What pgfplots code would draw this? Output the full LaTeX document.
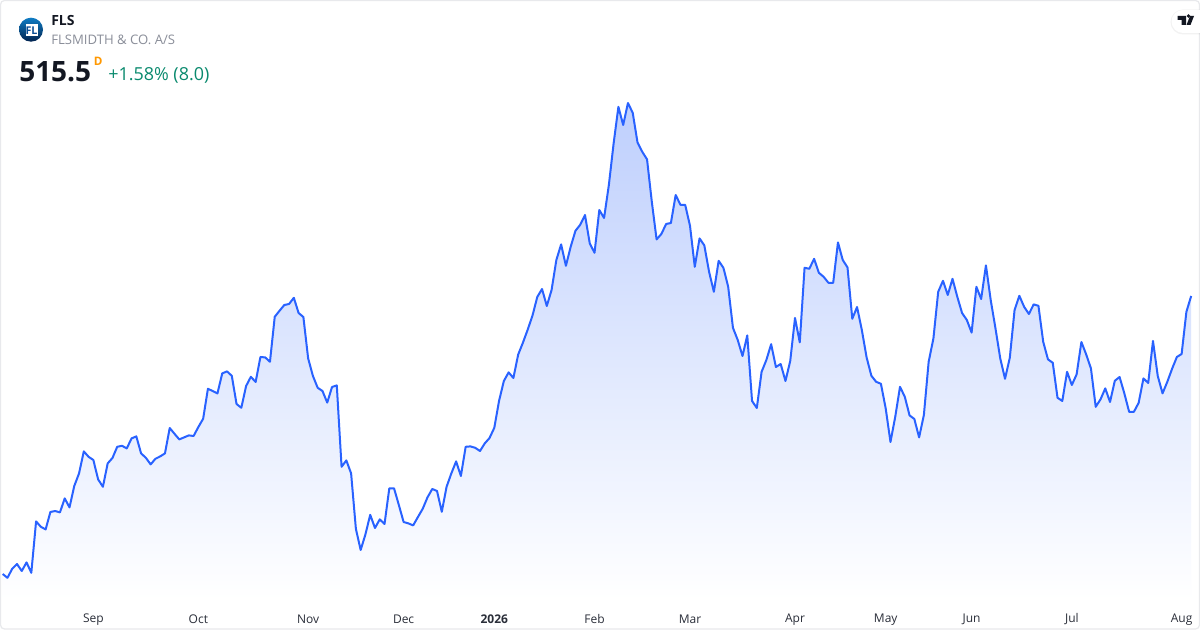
\documentclass[border=0pt]{standalone}
\usepackage{fontspec}
\setmainfont{Open Sans}
\usepackage{pgfplots}
\usepackage{pgfplotstable}
\pgfplotsset{compat=1.18}
\definecolor{tvblue}{HTML}{2962FF}
\definecolor{areatop}{HTML}{BECFFD}
\definecolor{tvgreen}{HTML}{0A8A6E}
\definecolor{tvorange}{HTML}{FF9800}
\definecolor{tvgrey}{HTML}{8A8E99}
\definecolor{tvdark}{HTML}{131722}
\definecolor{tvtick}{HTML}{2A2E39}
\definecolor{tvborder}{HTML}{E8E9EC}
\definecolor{logotop}{HTML}{0F7CC4}
\definecolor{logobot}{HTML}{02234F}
\definecolor{logotext}{HTML}{0B4F96}
\pgfplotstableread{
i p
0 376.5
1 374.6
2 379.1
3 381.5
4 378
5 382.3
6 377.1
7 402.8
8 400.1
9 398.8
10 407.5
11 408
12 407.3
13 414.3
14 409.8
15 420.5
16 426.8
17 437.8
18 435.1
19 433.5
20 423.8
21 420.1
22 431.8
23 434.5
24 440.1
25 440.6
26 439.3
27 444.3
28 445.3
29 436.8
30 434.6
31 431.3
32 434.1
33 435.3
34 436.8
35 449.5
36 446.6
37 443.8
38 444.8
39 445.8
40 445.5
41 450
42 454.1
43 469.1
44 468
45 466.8
46 476.8
47 477.8
48 475.6
49 461.5
50 459.6
51 470.5
52 475.1
53 472.5
54 485
55 484.8
56 482.6
57 505.1
58 508.1
59 511
60 511.5
61 514.6
62 507
63 505
64 484.3
65 475.5
66 469.6
67 468
68 462.2
69 470
70 470.8
71 430.1
72 433.3
73 426.8
74 399.1
75 388.5
76 396.3
77 406.1
78 399.5
79 403.8
80 401.5
81 419.3
82 419.3
83 411
84 402.5
85 401.8
86 400.8
87 405
88 409.1
89 414.8
90 419
91 418
92 407.6
93 420.1
94 426.8
95 432.8
96 425.5
97 440.1
98 440.3
99 439.6
100 438
101 441.8
102 444.5
103 449.6
104 463.1
105 473
106 477.3
107 474.5
108 486.2
109 492.2
110 498.7
111 505.7
112 515
113 519
114 510.5
115 518.5
116 533.5
117 541.3
118 530.6
119 540.1
120 548.1
121 551.1
122 556
123 541.8
124 537.1
125 558.5
126 554.5
127 571
128 591.8
129 610.1
130 601
131 612
132 607.1
133 592.3
134 587.6
135 583.8
136 562.6
137 543.8
138 546.5
139 551.5
140 552
141 566
142 561.1
143 561
144 550.6
145 530.1
146 544.3
147 540.8
148 527.6
149 517.6
150 533.1
151 529.6
152 520.1
153 499.6
154 493.5
155 485.5
156 495.8
157 463
158 459.5
159 477.6
160 483.5
161 491.4
162 480
163 481.5
164 473
165 483
166 504.5
167 492.3
168 529.6
169 529.1
170 534.1
171 527.1
172 525.1
173 522.1
174 522.1
175 542.3
176 533.5
177 529.8
178 504.1
179 510
180 498.5
181 484.8
182 475.6
183 472.6
184 471.6
185 459.3
186 442.5
187 455.1
188 470.1
189 465.1
190 455.8
191 454
192 444.8
193 456
194 482.6
195 494.3
196 517.6
197 523.1
198 516
199 524.1
200 515.1
201 507
202 503.5
203 497.2
204 520.1
205 514
206 530.8
207 513.5
208 499.3
209 484.3
210 474.1
211 484.6
212 508.5
213 515.6
214 510.1
215 506.5
216 511.3
217 510.6
218 492.6
219 483.8
220 482.1
221 464.6
222 463
223 477.6
224 471
225 476.3
226 492.5
227 486.3
228 479.3
229 460.1
230 463.8
231 469.3
232 462.5
233 473.1
234 475
235 466.8
236 457.6
237 457.6
238 462.1
239 474.3
240 472
241 493
242 475.5
243 466.8
244 472.6
245 479.1
246 485
247 486.5
248 507.6
249 515.5
}\prices
\begin{document}
\begin{tikzpicture}[x=0.75pt,y=-0.75pt]
\useasboundingbox (0,0) rectangle (1200,630);
\fill[white] (0,0) rectangle (1200,630);
\draw[tvborder,line width=0.9pt,rounded corners=3pt] (0.5,0.5) rectangle (1199.5,629);
\begin{axis}[
  at={(0,0)},anchor=north west,
  scale only axis,width=900pt,height=472.5pt,
  xmin=-0.56,xmax=250.85,ymin=348.5,ymax=663.5,
  axis line style={draw=none},
  major tick length=0pt,
  ytick=\empty,
  xtick={19,41,64,84,103,124,144,166,185,203,224,247},
  xticklabels={Sep,Oct,Nov,Dec,\textbf{2026},Feb,Mar,Apr,May,Jun,Jul,Aug},
  /pgf/number format/assume math mode=true,
  x tick label style={font=\fontsize{9pt}{11pt}\selectfont,text=tvtick,anchor=center,yshift=8pt},
  clip=false,
]
\addplot[draw=none,top color=areatop,bottom color=white] table[x=i,y=p]{\prices} -- (axis cs:249,363.5) -- (axis cs:0,363.5) -- cycle;
\addplot[tvblue,line width=1.5pt,line join=round,no marks] table[x=i,y=p]{\prices};
\end{axis}
% logo
\shade[top color=logotop,bottom color=logobot] (31,29.7) circle (12);
\fill[white] (25.5,24) rectangle (37.5,36);
\node[inner sep=0,text=logotext] at (31.5,30.3) {\fontsize{8pt}{9pt}\selectfont\bfseries FL};
% header
\node[anchor=base west,inner sep=0,text=tvdark] at (51,26) {\fontsize{10.5pt}{12pt}\selectfont\bfseries FLS};
\node[anchor=base west,inner sep=0,text=tvgrey] at (51,45) {\fontsize{9.85pt}{12pt}\selectfont FLSMIDTH \& CO. A/S};
\node[anchor=base west,inner sep=0,text=tvdark] at (19,82) {\fontsize{21pt}{24pt}\selectfont\bfseries 515.5};
\node[anchor=base west,inner sep=0,text=tvorange] at (93.5,65.5) {\fontsize{8.75pt}{10pt}\selectfont\bfseries D};
\node[anchor=base west,inner sep=0,text=tvgreen] at (108,81) {\fontsize{13.45pt}{15pt}\selectfont +1.58\% (8.0)};
% TV badge
\fill[black,opacity=0.05] (1200,34.5) -- (1183,34.5) arc (90:270:12.5) -- (1200,9.5) -- cycle;
\fill[white] (1200,33) -- (1183,33) arc (90:270:11.5) -- (1200,10) -- cycle;
\fill[tvdark] (1177.5,16) -- (1186,16) -- (1186,25) -- (1181.5,25) -- (1181.5,20) -- (1177.5,20) -- cycle;
\fill[tvdark] (1188.5,16) circle (1.9);
\fill[tvdark] (1190,16) -- (1194,16) -- (1190.5,25) -- (1186.5,25) -- cycle;
\end{tikzpicture}
\end{document}
